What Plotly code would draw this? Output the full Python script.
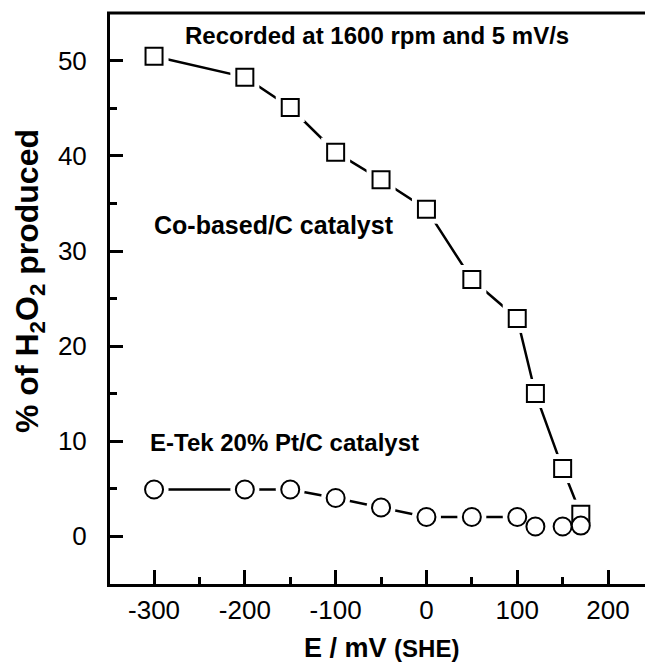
import plotly.graph_objects as go

# Data
potential_mV = [-300, -200, -150, -100, -50, 0, 50, 100, 120, 150, 170]
h2o2_co_based = [50.5, 48.3, 45.1, 40.4, 37.5, 34.4, 27.0, 22.9, 15.0, 7.1, 2.3]
h2o2_etek_pt = [4.9, 4.9, 4.9, 4.0, 3.0, 2.0, 2.0, 2.0, 1.0, 1.0, 1.1]

x_ticks = [-300, -200, -100, 0, 100, 200]
y_ticks = [0, 10, 20, 30, 40, 50]

FONT = "Liberation Sans, Arial, sans-serif"
BLACK = "#000000"

fig = go.Figure()

for ys in (h2o2_co_based, h2o2_etek_pt):
    fig.add_trace(go.Scatter(x=potential_mV, y=ys, mode="lines",
                             line=dict(color=BLACK, width=2.5),
                             showlegend=False, hoverinfo="skip"))
for ys, sym in ((h2o2_co_based, "square"), (h2o2_etek_pt, "circle")):
    fig.add_trace(go.Scatter(x=potential_mV, y=ys, mode="markers",
                             marker=dict(symbol=sym, size=29, color="white",
                                         line=dict(width=0)),
                             showlegend=False, hoverinfo="skip"))
fig.add_trace(go.Scatter(x=potential_mV, y=h2o2_co_based, mode="markers",
                         name="Co-based/C catalyst",
                         marker=dict(symbol="square", size=17, color="white",
                                     line=dict(color=BLACK, width=2)),
                         showlegend=False))
fig.add_trace(go.Scatter(x=potential_mV, y=h2o2_etek_pt, mode="markers",
                         name="E-Tek 20% Pt/C catalyst",
                         marker=dict(symbol="circle", size=18, color="white",
                                     line=dict(color=BLACK, width=2)),
                         showlegend=False))

PLOT_W = 645 - 110
annot_font = dict(family=FONT, size=24, color=BLACK)
fig.update_layout(
    width=645, height=665,
    margin=dict(l=110, r=0, t=13, b=81),
    paper_bgcolor="white", plot_bgcolor="white",
    font=dict(family=FONT, color=BLACK),
    xaxis=dict(range=[-348.5, 240.7], showgrid=False, zeroline=False,
               showline=True, linecolor=BLACK, linewidth=3, mirror=False,
               ticks="inside", ticklen=14, tickwidth=3, tickcolor=BLACK,
               tickvals=x_ticks, ticktext=[str(v) for v in x_ticks],
               tickfont=dict(family=FONT, size=26, color=BLACK),
               ticklabelstandoff=1,
               minor=dict(tickvals=[-250, -150, -50, 50, 150], ticks="inside",
                          ticklen=7, tickwidth=2.5, tickcolor=BLACK)),
    yaxis=dict(range=[-5.05, 55.05], showgrid=False, zeroline=False,
               showline=True, linecolor=BLACK, linewidth=3, mirror=False,
               ticks="inside", ticklen=13, tickwidth=3, tickcolor=BLACK,
               tickvals=y_ticks, ticktext=[str(v) for v in y_ticks],
               tickfont=dict(family=FONT, size=26, color=BLACK),
               ticklabelstandoff=15,
               minor=dict(tickvals=[5, 15, 25, 35, 45], ticks="inside",
                          ticklen=7, tickwidth=2.5, tickcolor=BLACK)),
    shapes=[
        dict(type="line", xref="paper", yref="paper", x0=-3 / PLOT_W,
             x1=1.0, y0=1.0, y1=1.0,
             line=dict(color=BLACK, width=3)),
    ],
    annotations=[
        dict(text="<b>Recorded at 1600 rpm and 5 mV/s</b>", x=-268, y=52.7,
             xref="x", yref="y", xanchor="left", yanchor="middle",
             showarrow=False, font=annot_font),
        dict(text="<b>Co-based/C catalyst</b>", x=-302, y=32.7,
             xref="x", yref="y", xanchor="left", yanchor="middle",
             showarrow=False, font=dict(family=FONT, size=25, color=BLACK)),
        dict(text="<b>E-Tek 20% Pt/C catalyst</b>", x=-306.5, y=9.8,
             xref="x", yref="y", xanchor="left", yanchor="middle",
             showarrow=False, font=annot_font),
        dict(text="<b>% of H<sub>2</sub>O<sub>2</sub> produced</b>",
             x=(29 - 110) / PLOT_W, y=1 - (281 - 13) / 571,
             xref="paper", yref="paper", xanchor="center", yanchor="middle",
             textangle=-90, showarrow=False,
             font=dict(family=FONT, size=32, color=BLACK)),
        dict(text="<b>E / mV</b> <b><span style='font-size:24px'>(SHE)</span></b>",
             x=(381 - 110) / PLOT_W, y=-(648 - 584) / 571,
             xref="paper", yref="paper", xanchor="center", yanchor="middle",
             showarrow=False, font=dict(family=FONT, size=27, color=BLACK)),
    ],
)

fig.write_html("out.html")
